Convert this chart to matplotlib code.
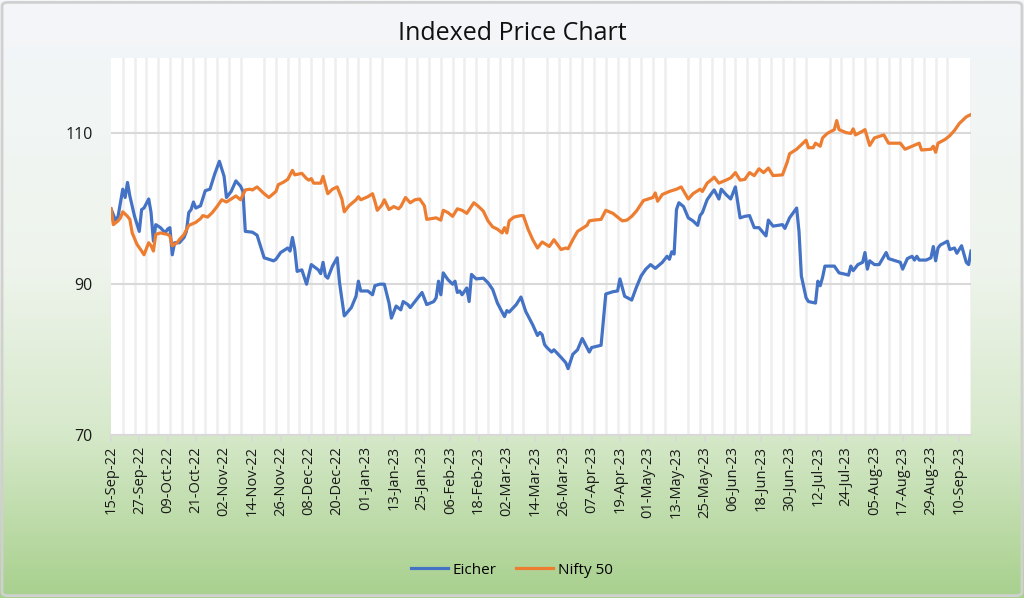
import numpy as np
import pandas as pd
import matplotlib
matplotlib.use("Agg")
import matplotlib.pyplot as plt
import matplotlib.dates as mdates
from matplotlib.colors import LinearSegmentedColormap
from matplotlib.patches import FancyBboxPatch

plt.rcParams['font.family'] = ['Open Sans', 'DejaVu Sans']

START = "2022-09-15"

# indexed prices (15-Sep-22 = 100); x = days since START
eicher_days = [0, 2, 3, 5, 6, 7, 8, 10, 12, 13, 14, 16, 17, 18, 19, 21, 23, 24, 25, 26,
               27, 29, 31, 32, 33, 34, 35, 36, 38, 40, 42, 44, 46, 48, 49, 51, 53, 55, 56, 57,
               60, 62, 65, 67, 69, 70, 72, 75, 76, 77, 78, 79, 81, 83, 85, 88, 89, 90, 91, 92,
               94, 96, 97, 99, 102, 104, 105, 106, 109, 111, 112, 114, 116, 118, 119, 121, 123, 124, 126, 127,
               129, 132, 134, 137, 138, 139, 140, 141, 143, 145, 146, 147, 148, 149, 151, 152, 153, 155, 158, 160,
               162, 164, 167, 168, 169, 172, 174, 176, 179, 181, 182, 183, 184, 185, 187, 188, 191, 193, 194, 196,
               198, 200, 203, 204, 208, 210, 213, 215, 216, 218, 221, 223, 225, 227, 229, 231, 234, 236, 237, 238,
               239, 240, 241, 243, 245, 247, 249, 250, 251, 253, 255, 256, 258, 259, 261, 263, 265, 267, 269, 271,
               273, 275, 278, 279, 281, 283, 285, 286, 288, 291, 292, 293, 295, 296, 299, 300, 301, 302, 303, 304,
               307, 309, 312, 313, 314, 315, 317, 319, 320, 321, 322, 324, 326, 329, 330, 333, 335, 336, 338, 340,
               341, 342, 343, 346, 348, 349, 350, 351, 352, 355, 356, 358, 359, 361, 363, 364, 365]
eicher_vals = [100.0, 98.4, 99.0, 102.6, 101.5, 103.5, 101.7, 99.0, 97.0, 99.9, 100.1, 101.3, 99.5, 95.7, 97.9, 97.5, 96.8, 97.3, 97.5, 93.9,
               95.5, 95.5, 96.2, 97.0, 99.5, 99.9, 100.9, 100.1, 100.4, 102.4, 102.6, 104.6, 106.3, 104.3, 101.5, 102.3, 103.7, 103.0, 102.3, 97.0,
               96.9, 96.5, 93.5, 93.3, 93.1, 93.3, 94.2, 94.8, 94.4, 96.2, 94.6, 91.7, 91.9, 90.0, 92.6, 91.9, 91.4, 92.9, 91.1, 90.8,
               92.4, 93.5, 90.2, 85.8, 86.9, 88.4, 90.4, 89.1, 89.1, 88.6, 89.8, 90.0, 90.0, 87.5, 85.5, 87.1, 86.6, 87.7, 87.3, 86.9,
               87.7, 88.9, 87.3, 87.7, 88.2, 90.4, 88.6, 91.5, 90.6, 90.0, 90.4, 88.9, 89.1, 88.6, 89.5, 87.7, 91.3, 90.7, 90.8, 90.2,
               89.3, 87.5, 85.7, 86.5, 86.3, 87.3, 88.3, 86.4, 84.6, 83.2, 83.6, 83.3, 82.0, 81.6, 81.0, 81.3, 80.3, 79.6, 78.8, 80.7,
               81.3, 82.8, 81.0, 81.6, 81.9, 88.7, 89.0, 89.1, 90.7, 88.4, 87.9, 89.6, 91.1, 92.0, 92.6, 92.1, 92.9, 93.7, 93.3, 94.3,
               94.0, 99.9, 100.8, 100.3, 98.8, 98.4, 97.8, 99.1, 99.5, 101.2, 102.1, 102.5, 101.3, 102.6, 101.9, 101.3, 102.9, 98.8, 99.0, 99.1,
               97.5, 97.5, 96.4, 98.5, 97.7, 97.8, 97.9, 97.4, 98.8, 100.1, 97.0, 91.1, 88.2, 87.7, 87.5, 90.4, 89.8, 90.9, 92.4, 92.4,
               92.4, 91.5, 91.3, 91.2, 92.4, 91.8, 92.6, 92.9, 94.2, 92.0, 93.1, 92.6, 92.6, 94.2, 93.4, 93.1, 92.9, 92.0, 93.4, 93.7,
               93.2, 93.7, 93.2, 93.2, 93.5, 95.0, 93.1, 94.8, 95.2, 95.7, 94.6, 94.8, 94.1, 95.1, 92.9, 92.6, 94.4]

nifty_days = [0, 1, 3, 4, 5, 7, 8, 9, 11, 13, 14, 16, 17, 18, 19, 21, 24, 25, 26, 28,
              29, 31, 33, 36, 38, 39, 41, 43, 45, 47, 49, 51, 53, 55, 57, 59, 60, 62, 64, 65,
              67, 70, 71, 73, 75, 77, 78, 81, 83, 84, 85, 86, 89, 90, 92, 94, 96, 98, 99, 101,
              104, 105, 106, 109, 111, 112, 113, 115, 116, 118, 120, 122, 123, 125, 127, 129, 131, 133, 134, 136,
              138, 140, 141, 143, 145, 147, 149, 151, 154, 156, 158, 160, 162, 164, 166, 167, 168, 169, 171, 174,
              175, 177, 179, 181, 183, 186, 188, 191, 193, 194, 196, 198, 200, 202, 203, 205, 208, 210, 213, 215,
              217, 219, 221, 223, 226, 228, 230, 231, 232, 234, 237, 239, 240, 242, 245, 247, 250, 251, 253, 255,
              256, 258, 261, 263, 265, 267, 269, 271, 273, 275, 277, 279, 281, 285, 287, 288, 291, 293, 295, 296,
              298, 299, 301, 302, 304, 307, 308, 309, 312, 314, 315, 316, 319, 320, 322, 324, 326, 328, 330, 333,
              335, 337, 340, 343, 344, 348, 349, 350, 351, 354, 356, 358, 360, 362, 363, 365]
nifty_vals = [100.0, 97.9, 98.4, 98.8, 99.6, 99.0, 98.6, 96.8, 95.3, 94.4, 93.9, 95.5, 95.1, 94.4, 96.6, 96.8, 96.6, 96.4, 95.1, 95.5,
              95.9, 96.6, 97.8, 98.2, 98.7, 99.1, 98.9, 99.5, 100.3, 101.2, 100.9, 101.3, 101.7, 101.2, 102.5, 102.6, 102.5, 102.9, 102.3, 102.0,
              101.5, 102.3, 103.2, 103.5, 103.9, 105.1, 104.5, 104.7, 104.0, 103.8, 104.0, 103.4, 103.4, 104.3, 102.0, 102.6, 102.9, 101.3, 99.6, 100.4,
              101.2, 101.6, 101.2, 101.6, 102.0, 101.0, 99.8, 100.5, 101.2, 99.9, 100.3, 100.0, 100.3, 101.5, 100.8, 101.2, 101.3, 100.4, 98.6, 98.7,
              98.8, 98.5, 99.8, 99.5, 99.0, 100.0, 99.8, 99.4, 100.8, 100.3, 99.7, 98.4, 97.6, 97.3, 96.8, 97.5, 96.8, 98.4, 98.9, 99.1,
              99.1, 97.3, 95.9, 94.8, 95.6, 95.0, 95.9, 94.6, 94.8, 94.7, 95.9, 97.0, 97.4, 97.8, 98.4, 98.5, 98.6, 99.8, 99.4, 98.9,
              98.4, 98.5, 99.0, 99.7, 101.1, 101.3, 101.5, 102.1, 101.0, 101.9, 102.3, 102.5, 102.6, 102.9, 101.3, 102.0, 102.6, 102.3, 103.4, 103.9,
              104.2, 103.4, 103.8, 104.1, 104.8, 103.8, 103.9, 104.8, 104.4, 105.3, 104.8, 105.4, 104.4, 104.5, 106.2, 107.3, 107.9, 108.5, 109.1, 108.1,
              108.1, 108.7, 108.3, 109.4, 110.0, 110.5, 111.7, 110.5, 110.1, 110.0, 110.6, 109.8, 110.3, 110.5, 108.4, 109.4, 109.6, 109.8, 108.7, 108.7,
              108.7, 107.9, 108.3, 108.7, 107.8, 107.9, 108.3, 107.5, 108.7, 109.2, 109.7, 110.4, 111.3, 111.9, 112.2, 112.5]

start = pd.Timestamp(START)
eicher_dates = start + pd.to_timedelta(eicher_days, unit="D")
nifty_dates = start + pd.to_timedelta(nifty_days, unit="D")

W, H = 1024, 598
fig = plt.figure(figsize=(W / 100, H / 100), dpi=100)

# background: light at the top, green toward the bottom
bg = fig.add_axes([0, 0, 1, 1], zorder=-2)
cmap = LinearSegmentedColormap.from_list(
    "bg", [(0.0, "#f4f6fa"), (0.45, "#eef4ec"), (0.72, "#d7e9cb"), (1.0, "#a8d08d")])
grad = np.linspace(0, 1, 256).reshape(-1, 1)
bg.imshow(grad, aspect="auto", cmap=cmap, extent=[0, 1, 0, 1], origin="upper")
bg.set_xlim(0, 1)
bg.set_ylim(0, 1)
bg.axis("off")
bg.add_patch(FancyBboxPatch((0.002, 0.004), 0.996, 0.992,
                            boxstyle="round,pad=0,rounding_size=0.006",
                            fill=False, ec="#d0d0d0", lw=2.0))

ax = fig.add_axes([111 / W, 1 - 435 / H, 860 / W, 377 / H])
ax.set_facecolor("white")

ax.plot(eicher_dates, eicher_vals, color="#4472c4", lw=2.3, label="Eicher", zorder=3)
ax.plot(nifty_dates, nifty_vals, color="#ed7d31", lw=2.3, label="Nifty 50", zorder=3)

ax.set_ylim(70, 120)
ax.set_yticks([70, 90, 110])
ax.set_xlim(start, start + pd.Timedelta(days=365))

ax.set_xticks(start + pd.to_timedelta(np.arange(0, 361, 12), unit="D"))
ax.set_xticks(start + pd.to_timedelta(np.arange(0, 366, 5), unit="D"), minor=True)
ax.xaxis.set_major_formatter(mdates.DateFormatter("%d-%b-%y"))
plt.setp(ax.get_xticklabels(), rotation=90)

ax.grid(axis="y", which="major", color="#d9d9d9", lw=1.5)
ax.grid(axis="x", which="minor", color="#eeeeee", lw=1.8)
ax.set_axisbelow(True)

for s in ["top", "right", "left"]:
    ax.spines[s].set_visible(False)
ax.spines["bottom"].set_color("#d9d9d9")
ax.spines["bottom"].set_linewidth(1.5)
ax.tick_params(axis="x", which="major", length=5, width=1.2, color="#d9d9d9",
               labelsize=10.5, pad=3, labelcolor="#1a1a1a")
ax.tick_params(axis="x", which="minor", length=0)
ax.tick_params(axis="y", length=0, labelsize=11.5, pad=13, labelcolor="#1a1a1a")

fig.text(0.5, 1 - 33 / H, "Indexed Price Chart", ha="center", va="center",
         fontsize=18, color="#111111")

fig.legend(loc="center", bbox_to_anchor=(0.5, 1 - 570 / H), ncol=2, frameon=False,
           fontsize=11, handlelength=2.4, columnspacing=1.3, handletextpad=0.3)

fig.savefig("out.png", dpi=100)
